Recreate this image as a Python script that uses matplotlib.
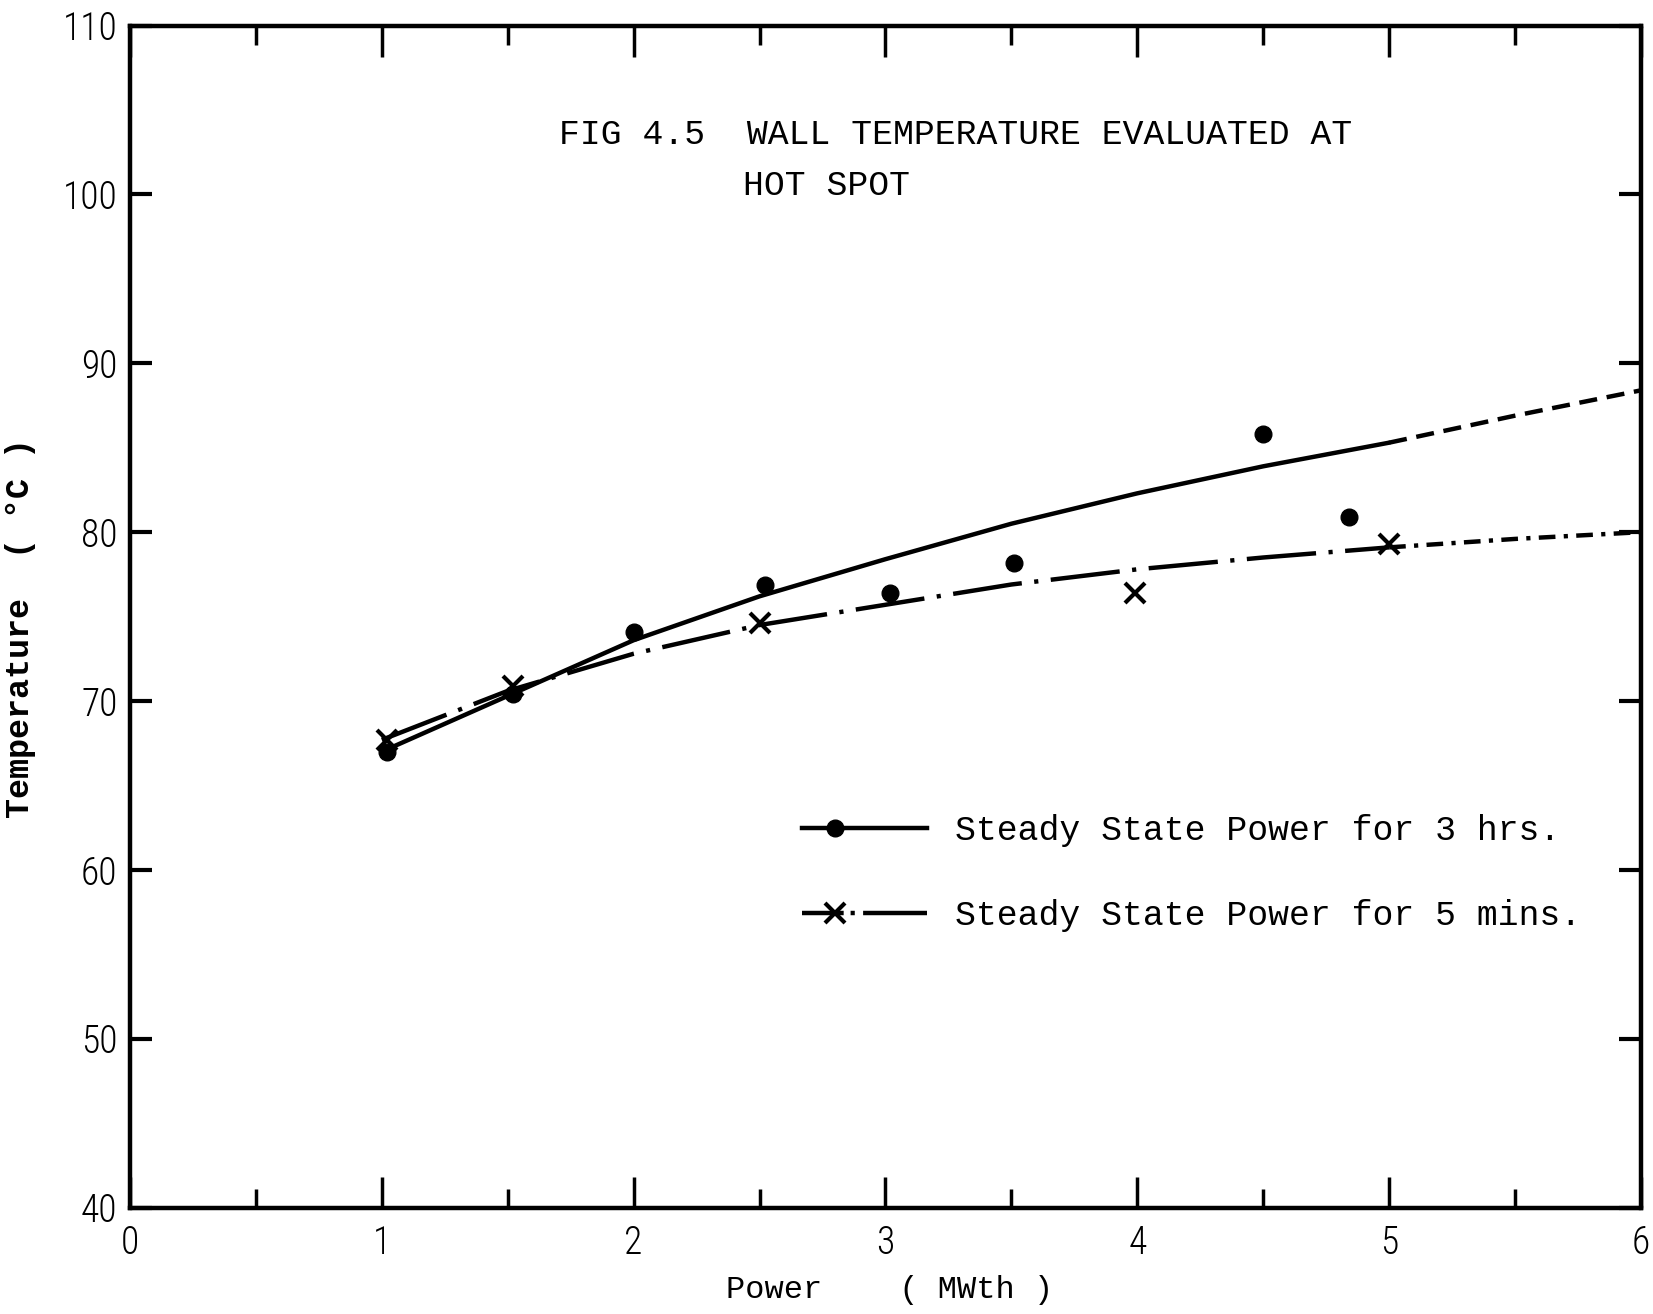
import matplotlib
matplotlib.use('Agg')
from matplotlib import pyplot as plt
from matplotlib.lines import Line2D
from matplotlib.legend_handler import HandlerLine2D
from matplotlib.ticker import MultipleLocator

plt.rcParams['lines.scale_dashes'] = False

dot_power = [1.02, 1.52, 2.0, 2.52, 3.02, 3.51, 4.5, 4.84]
dot_temp = [67.0, 70.4, 74.1, 76.9, 76.4, 78.2, 85.8, 80.9]
cross_power = [1.02, 1.52, 2.5, 3.99, 5.0]
cross_temp = [67.7, 70.9, 74.6, 76.4, 79.3]

# hand drawn curves, read at 0.5 MWth steps
fit3h_power = [1.0, 1.5, 2.0, 2.5, 3.0, 3.5, 4.0, 4.5, 5.0]
fit3h_temp = [67.0, 70.3, 73.6, 76.2, 78.4, 80.5, 82.3, 83.9, 85.3]
ext3h_power = [5.0, 5.5, 6.0]
ext3h_temp = [85.3, 86.9, 88.4]
fit5m_power = [1.0, 1.5, 2.0, 2.5, 3.0, 3.5, 4.0, 4.5, 5.0]
fit5m_temp = [67.7, 70.6, 72.8, 74.5, 75.7, 76.9, 77.8, 78.5, 79.1]
ext5m_power = [5.0, 5.5, 6.0]
ext5m_temp = [79.1, 79.6, 80.0]

legend_labels = ['Steady State Power for 3 hrs.', 'Steady State Power for 5 mins.']
title_line1 = 'FIG 4.5  WALL TEMPERATURE EVALUATED AT'
title_line2 = 'HOT SPOT'

mono = ['Liberation Mono', 'DejaVu Sans Mono']
narrow = ['Liberation Sans Narrow', 'DejaVu Sans Condensed', 'Roboto Condensed', 'Roboto']
dashdot = (0, (50, 9, 3, 9))


class MarkerLeft(HandlerLine2D):
    # legend sample with the marker near the left end, as drawn in the report
    def create_artists(self, legend, orig_handle, xdescent, ydescent, width,
                       height, fontsize, trans):
        x0 = -xdescent
        y0 = (height - ydescent) / 2
        legline = Line2D([x0, x0 + 0.26 * width, x0 + width], [y0, y0, y0])
        self.update_prop(legline, orig_handle, legend)
        legline.set_markevery([1])
        legline.set_transform(trans)
        return [legline]


fig = plt.figure(figsize=(16.53, 13.14), dpi=100)
ax = fig.add_axes([0.0786, 0.081, 0.9141, 0.8995])

ax.plot(fit3h_power, fit3h_temp, color='black', lw=3.2, solid_capstyle='round',
        solid_joinstyle='round')
ax.plot(ext3h_power, ext3h_temp, color='black', lw=3.2, linestyle=(0, (13, 7)))
ax.plot(fit5m_power, fit5m_temp, color='black', lw=3.2, linestyle=dashdot)
ax.plot(ext5m_power, ext5m_temp, color='black', lw=3.2, linestyle=(0, (12, 6, 3, 6)))

ax.plot(dot_power, dot_temp, 'o', color='black', ms=12)
ax.plot(cross_power, cross_temp, 'x', color='black', ms=15, mew=3)

ax.set_xlim(0, 6)
ax.set_ylim(40, 110)
ax.xaxis.set_major_locator(MultipleLocator(1))
ax.xaxis.set_minor_locator(MultipleLocator(0.5))
ax.yaxis.set_major_locator(MultipleLocator(10))

ax.tick_params(axis='x', which='both', direction='in', top=True, width=2.5)
ax.tick_params(axis='x', which='major', length=22, pad=12)
ax.tick_params(axis='x', which='minor', length=14)
ax.tick_params(axis='y', which='major', direction='in', right=True, width=3,
               length=16, pad=9)
for lab in ax.get_xticklabels() + ax.get_yticklabels():
    lab.set_family(narrow)
    lab.set_fontsize(27)
    lab.set_fontweight('light')

for sp in ax.spines.values():
    sp.set_linewidth(3.2)

ax.set_xlabel('Power    ( MWth )', family=mono, fontsize=23)
ax.xaxis.set_label_coords(0.503, -0.057)
ax.set_ylabel('Temperature  ( \u00b0C )', family=mono, fontsize=24,
              fontweight='bold')
ax.yaxis.set_label_coords(-0.062, 0.49)

ax.text(0.284, 0.908, title_line1, transform=ax.transAxes, family=mono,
        fontsize=25, va='center', ha='left')
ax.text(0.406, 0.865, title_line2, transform=ax.transAxes, family=mono,
        fontsize=25, va='center', ha='left')

handles = [
    Line2D([], [], color='black', lw=3.2, marker='o', ms=12),
    Line2D([], [], color='black', lw=3.2, linestyle=(0, (30, 5, 3, 6, 60, 10)),
           marker='x', ms=15, mew=3),
]
ax.legend(handles, legend_labels, loc='upper left', bbox_to_anchor=(0.445, 0.333),
          frameon=False, prop={'family': mono, 'size': 25}, handlelength=3.6,
          handletextpad=0.8, labelspacing=1.5, borderpad=0, borderaxespad=0,
          handler_map={Line2D: MarkerLeft()})

fig.savefig('out.png', dpi=100, facecolor='white')
